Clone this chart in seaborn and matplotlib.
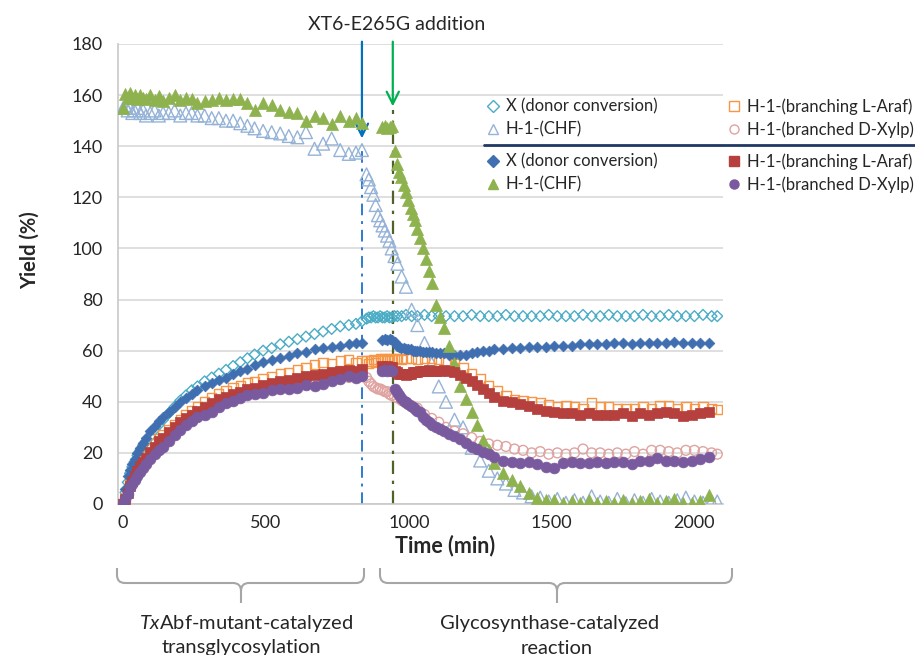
import matplotlib
matplotlib.use("Agg")
import matplotlib.pyplot as plt
import seaborn as sns
from matplotlib.lines import Line2D
from matplotlib.path import Path
from matplotlib.patches import PathPatch
from matplotlib.transforms import Affine2D

# --- time points (min) ---
t_pre = [0, 8, 16, 24, 32, 40, 50, 60, 70, 80,
         95, 110, 125, 140,
         160, 180, 200, 220, 240, 260,
         285, 310, 335, 360, 385, 410, 435, 460,
         490, 520, 550, 580, 610, 640, 670, 700, 730, 760, 790,
         815, 836]
t_open_post = [852, 860, 868, 876, 884, 892, 900, 908, 916, 924, 932, 940,
               950, 960, 975, 990, 1010, 1030, 1055, 1080, 1105, 1130,
               1160, 1190, 1220, 1250, 1280, 1310, 1340, 1370, 1400, 1430,
               1460, 1490, 1520, 1550, 1580, 1610, 1640, 1670, 1700, 1730,
               1760, 1790, 1820, 1850, 1880, 1910, 1940, 1970, 2000, 2030,
               2060, 2080]
t_fill_post = [905, 915, 925, 935, 940,
               950, 958, 966, 974, 982, 990, 998, 1006, 1014, 1022, 1030,
               1040, 1050, 1060, 1070, 1080,
               1095, 1110, 1125, 1140,
               1160, 1180, 1200, 1220, 1240, 1260, 1280, 1300,
               1330, 1360, 1390, 1420, 1450, 1480, 1510, 1540, 1570, 1600,
               1630, 1660, 1690, 1720, 1750, 1780, 1810, 1840, 1870, 1900,
               1930, 1960, 1990, 2020, 2050]

# --- open symbols run (XT6 added at 836 min) ---
x_open = [0, 4.5, 8.5, 12, 14.5, 16.5, 19, 21, 23, 24.5,
          26.5, 29, 31, 33,
          35.5, 38, 40.5, 42.5, 44.5, 46,
          48, 49.5, 51, 52.5, 54, 55.5, 57, 58.5,
          60, 61, 62.5, 63.5, 64.5, 65.5, 66.5, 67.5, 68.5, 69.5, 70,
          70.5, 71.5,
          72.5, 73, 73, 73.5, 73, 73, 73.5, 73, 73, 73.5, 73, 73,
          73.5, 73.5, 73.5, 74, 73.5, 73.5, 74, 73.5, 73.5, 73.5,
          73.5, 73.5, 74, 73.5, 73.5, 73.5, 74, 73.5, 73.5, 73.5,
          73.5, 74, 73.5, 73.5, 73.5, 74, 73.5, 73.5, 74, 73.5,
          73.5, 73.5, 74, 73.5, 73.5, 74, 73.5, 73.5, 73.5, 74,
          73.5, 73.5]
chf_open = [155, 156, 154, 155, 153, 154, 155, 153, 154, 152,
            153, 154, 152, 153,
            153, 154, 152, 153, 153, 152,
            152, 151, 151, 150, 150, 149, 148, 147,
            146, 145.5, 145, 144, 143.5, 145.5, 139, 141, 143, 138.5, 137,
            137.5, 138.5,
            129, 127, 124, 121, 117, 113, 111, 109, 107, 105, 103, 100,
            97, 94, 89, 85, 76, 70, 63, 55, 46, 40,
            33, 30, 22, 17, 13, 10, 8, 5.5, 4.5, 3,
            2.5, 1, 2, 0.5, 1.5, 0.5, 3, 1, 0.5, 2,
            0.3, 1.5, 0.5, 2, 1, 0.5, 1.5, 2.5, 1, 0.5,
            1, 1]
araf_open = [0, 2.5, 5, 7.5, 9.5, 11.5, 13.5, 15.5, 17.5, 19,
             21.5, 23.5, 25.5, 27,
             29, 31, 33, 35, 36.5, 38,
             40, 41.5, 43, 44.5, 45.5, 46.5, 47.5, 48,
             49, 50, 51, 51.5, 52.5, 53.5, 54.5, 55.5, 55, 56, 56.5,
             55.5, 56,
             56, 55, 56, 56.5, 55.5, 56, 57, 56.5, 57, 56, 57, 56.5,
             57, 57, 56.5, 57, 57, 56.5, 57, 57, 56.5, 56,
             55, 53.5, 51, 49, 46.5, 44.5, 42.5, 41, 40.5, 40,
             39.5, 39, 38, 38.5, 38, 37.5, 39.5, 38, 38, 37.5,
             37.5, 37.5, 38, 37.5, 38.5, 38.5, 37.5, 38, 37.5, 38,
             37.5, 37]
xylp_open = [0, 2.5, 4.5, 6.5, 8.5, 10, 11.5, 13, 14.5, 16,
             18, 20, 21.5, 23,
             25, 27.5, 29.5, 31.5, 33, 34.5,
             35.5, 37, 38.5, 40, 41, 42, 43, 43.5,
             44, 45, 45.5, 46, 46.5, 47, 47.5, 48, 48.5, 49, 49.5,
             50, 50,
             49.5, 48, 47, 46, 45.5, 45, 45, 44.5, 44, 44, 43, 42.5,
             42, 41.5, 40.5, 39.5, 38.5, 37.5, 35, 33.5, 32, 30,
             28.5, 27.5, 26, 24.5, 23.5, 23, 22.5, 21.5, 21, 20,
             20.5, 19.5, 20, 19.5, 20, 21.5, 20, 20, 19.5, 20,
             19.5, 20.5, 19.5, 21, 21, 20.5, 20, 21, 21, 20.5,
             20, 19.5]

# --- filled symbols run (XT6 added at 944 min) ---
x_fill = [0, 6, 11, 13.5, 15.5, 17.5, 20, 22, 24, 26,
          28.5, 30.5, 32.5, 34,
          36, 38, 40, 41.5, 43, 44.5,
          46, 47.5, 48.5, 49.5, 51, 52, 53, 54.5,
          55.5, 56.5, 57, 58, 59, 59.5, 60.5, 61, 61.5, 62, 62.5,
          63, 63,
          64, 64.5, 64, 64.5, 64,
          63.5, 62, 61.5, 61, 61, 60.5, 60.5, 60.5, 60, 60, 60,
          60, 59.5, 59.5, 59.5, 59.5,
          59, 59, 59, 58.5,
          58.5, 58.5, 58.5, 59, 59.5, 60, 60, 60.5,
          60.5, 61, 61, 61.5, 61.5, 61.5, 62, 62, 62, 62.5,
          62.5, 62.5, 62.5, 63, 63, 62.5, 63, 63, 63, 63,
          63.5, 63, 63, 63, 63]
chf_fill = [155, 160.5, 159, 161, 159, 160, 158.5, 160, 159, 158.5,
            160, 158, 159.5, 157.5,
            159, 160, 158, 159, 158.5, 157,
            157.5, 158, 159, 158, 158.5, 158.5, 157, 154,
            157, 156, 154, 153.5, 153, 150, 152, 151, 148.5, 152, 150,
            151, 149,
            147.5, 148, 147, 147.5, 148,
            138, 133, 130, 128, 125, 122, 119, 116, 113.5, 111, 107.5,
            104, 100, 96, 91, 86.5,
            78, 73, 69, 62,
            55, 46, 41, 36, 31, 25, 21, 16,
            12, 9.5, 7, 4.5, 2.5, 1.5, 1.5, 0.5, 1, 0.5,
            1.5, 0.5, 1, 0.3, 1.5, 0.5, 1, 2, 0.5, 1,
            2, 0.5, 0.5, 1, 3.5]
araf_fill = [0, 2, 4.5, 7, 9, 11, 13, 15, 16.5, 18,
             20.5, 22.5, 24.5, 26,
             28, 30, 32, 33.5, 35, 36.5,
             38, 39.5, 41, 42, 43, 44, 45, 45.5,
             46.5, 47.5, 48, 48.5, 49.5, 50, 50.5, 51, 51.5, 52, 52.5,
             52, 53,
             54, 53.5, 54, 53.5, 53.5,
             52, 51.5, 51, 51, 51, 50.5, 51, 51, 51.5, 51.5, 51.5,
             52, 52, 52, 52.5, 52,
             52, 52, 52.5, 52,
             51.5, 50.5, 49.5, 48, 46.5, 45, 43.5, 42,
             40.5, 40, 39, 38.5, 37, 36.5, 36, 35.5, 35.5, 35,
             35.5, 35, 35, 35, 35.5, 34.5, 35.5, 35, 35.5, 36,
             35.5, 34.5, 35, 35.5, 36]
xylp_fill = [0, 2, 4, 6.5, 8, 9.5, 11, 12.5, 14, 15.5,
             17.5, 19.5, 21, 22.5,
             24.5, 27, 29, 31, 32.5, 34,
             35, 36, 38, 39.5, 40.5, 41.5, 42.5, 43,
             43.5, 44.5, 45, 45, 45.5, 46.5, 46, 47, 48, 49, 50,
             49.5, 50,
             52, 52.5, 52, 52.5, 52,
             45, 44, 42.5, 41.5, 40.5, 40, 39, 38.5, 38, 37, 36.5,
             36, 34, 33, 32, 31,
             30, 29.5, 28.5, 27.5,
             26.5, 25.5, 24, 22.5, 21.5, 20.5, 19.5, 18.5,
             17, 16.5, 16, 16.5, 15.5, 14.5, 14, 16, 16.5, 16,
             16, 16.5, 16, 16.5, 16.5, 15.5, 17, 17, 18, 17,
             17, 16.5, 17, 17.5, 18.5]

t_add_open = 836
t_add_fill = 944
y_ticks = [0, 20, 40, 60, 80, 100, 120, 140, 160, 180]
x_ticks = [0, 500, 1000, 1500, 2000]

labels = ["X (donor conversion)", "H-1-(CHF)",
          "H-1-(branching L-Araf)", "H-1-(branched D-Xylp)"]

sns.set_style("white")
plt.rcParams['font.family'] = ['Lato', 'DejaVu Sans']
plt.rcParams['mathtext.fontset'] = 'custom'
plt.rcParams['mathtext.rm'] = 'Lato'
plt.rcParams['mathtext.it'] = 'Lato:italic'

W, H = 915, 655
fig = plt.figure(figsize=(W / 100, H / 100), dpi=100)
ax = fig.add_axes([118 / W, 1 - 504 / H, (723 - 118) / W, (504 - 44) / H])

t_open = t_pre + t_open_post
t_fill = t_pre + t_fill_post

# open symbols
open_specs = [(x_open, "D", "#4BACC6", 30), (chf_open, "^", "#95B3D7", 85),
              (araf_open, "s", "#F79646", 45), (xylp_open, "o", "#DFA3A1", 50)]
for vals, mk, col, s in open_specs:
    sns.scatterplot(x=t_open, y=vals, marker=mk, s=s, color=col, fc="none",
                    ec=col, linewidth=1.0, ax=ax, zorder=3)

# filled symbols
fill_specs = [(x_fill, "D", "#3F6FB0", 30), (chf_fill, "^", "#8DB24E", 75),
              (araf_fill, "s", "#B5403D", 45), (xylp_fill, "o", "#7A5A9E", 60)]
for vals, mk, col, s in fill_specs:
    sns.scatterplot(x=t_fill, y=vals, marker=mk, s=s, color=col, ec=col,
                    linewidth=0.5, ax=ax, zorder=4)

ax.set_xlim(-18, 2100)
ax.set_ylim(0, 180)
ax.set_xticks(x_ticks)
ax.set_yticks(y_ticks)
ax.yaxis.grid(True, color="#D9D9D9", lw=1.2)
ax.xaxis.grid(False)
ax.set_axisbelow(True)
for side in ["top", "right"]:
    ax.spines[side].set_visible(False)
for side in ["left", "bottom"]:
    ax.spines[side].set_color("#C8C8C8")
    ax.spines[side].set_linewidth(1.2)
ax.tick_params(axis="both", which="major", length=5, width=1.2,
               color="#C8C8C8", labelsize=13, labelcolor="#262626", pad=6)
ax.tick_params(axis="x", pad=3)
ax.set_xlabel("Time (min)", fontsize=15.5, fontweight="bold", va="top")
ax.xaxis.set_label_coords(0.54, -0.066)
ax.set_ylabel("Yield (%)", fontsize=14.5, fontweight="bold")
ax.yaxis.set_label_coords(-0.13, 0.552)

# addition markers
ax.plot([t_add_open, t_add_open], [0, 141], ls=(0, (6, 3, 1.5, 3)),
        color="#2F7BD0", lw=1.4, zorder=2)
ax.plot([t_add_fill, t_add_fill], [0, 154], ls=(0, (6, 3, 1.5, 3)),
        color="#4F6228", lw=1.6, zorder=2)
ax.annotate("", xy=(t_add_open, 142), xytext=(t_add_open, 182),
            arrowprops=dict(arrowstyle="->", color="#0070C0", lw=1.6,
                            mutation_scale=22), annotation_clip=False)
ax.annotate("", xy=(t_add_fill, 154.5), xytext=(t_add_fill, 182),
            arrowprops=dict(arrowstyle="->", color="#00B050", lw=1.6,
                            mutation_scale=22), annotation_clip=False)
fig.text(397 / W, 1 - 24 / H, "XT6-E265G addition", ha="center", va="center",
         fontsize=14, color="#262626")

# legends: two stacked blocks, each two columns wide
def handles(specs, filled):
    out = []
    for _, mk, col, _s in specs:
        out.append(Line2D([], [], ls="none", marker=mk, ms=6.5,
                          mfc=col if filled else "none", mec=col, mew=1.0))
    return out

h1 = handles(open_specs, False)
h2 = handles(fill_specs, True)
leg_kw = dict(ncol=2, frameon=False, fontsize=12, handlelength=0.85,
              handletextpad=0.35, columnspacing=4.15, labelspacing=0.42,
              borderaxespad=0, borderpad=0, loc="upper left")
lg1 = fig.legend(h1, labels, bbox_to_anchor=(486 / W, 1 - 98 / H), **leg_kw)
lg2 = fig.legend(h2, labels, bbox_to_anchor=(486 / W, 1 - 153 / H), **leg_kw)
for lg in (lg1, lg2):
    for txt in lg.get_texts():
        txt.set_color("#262626")

fig.add_artist(Line2D([484 / W, 1.0], [1 - 145 / H, 1 - 145 / H],
                      transform=fig.transFigure, color="#1F3864", lw=2))

# braces under the x axis (pixel coordinates)
px = Affine2D().scale(1 / W, -1 / H).translate(0, 1) + fig.transFigure

def brace(x0, x1, xm, ytop=568, ymid=583, ytip=603, r=8):
    verts = [(x0, ytop), (x0, ymid - r), (x0, ymid), (x0 + r, ymid),
             (xm - r, ymid), (xm, ymid), (xm, ymid + r), (xm, ytip),
             (xm, ymid + r), (xm, ymid), (xm + r, ymid),
             (x1 - r, ymid), (x1, ymid), (x1, ymid - r), (x1, ytop)]
    codes = [Path.MOVETO, Path.LINETO, Path.CURVE3, Path.CURVE3,
             Path.LINETO, Path.CURVE3, Path.CURVE3, Path.LINETO,
             Path.MOVETO, Path.CURVE3, Path.CURVE3,
             Path.LINETO, Path.CURVE3, Path.CURVE3, Path.LINETO]
    return PathPatch(Path(verts, codes), transform=px, fill=False,
                     ec="#A6A6A6", lw=1.5)

fig.add_artist(brace(117, 364, 241))
fig.add_artist(brace(380, 732, 557))

fig.text(246 / W, 1 - 624 / H, r"$\mathit{Tx}$Abf-mutant-catalyzed",
         ha="center", va="center", fontsize=14.5, color="#262626")
fig.text(241 / W, 1 - 648 / H, "transglycosylation",
         ha="center", va="center", fontsize=14.5, color="#262626")
fig.text(550 / W, 1 - 624 / H, "Glycosynthase-catalyzed",
         ha="center", va="center", fontsize=14.5, color="#262626")
fig.text(557 / W, 1 - 648 / H, "reaction",
         ha="center", va="center", fontsize=14.5, color="#262626")

fig.savefig("out.png", dpi=100)
